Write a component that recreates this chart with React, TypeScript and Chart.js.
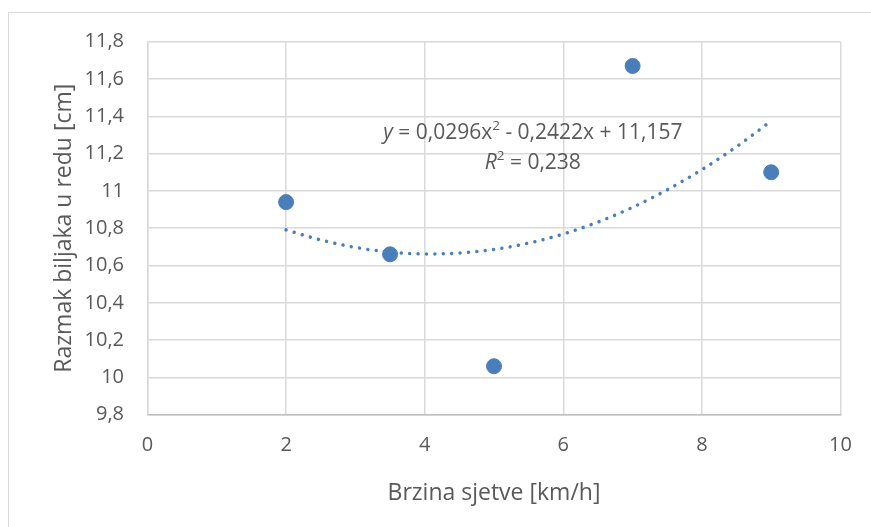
import React, { useEffect, useRef } from "react";
import { Chart, registerables } from "chart.js";

Chart.register(...registerables);

// Measured data: planting speed (km/h) vs plant spacing in row (cm)
const speeds = [2, 3.5, 5, 7, 9];
const spacing = [10.94, 10.66, 10.06, 11.67, 11.1];

// Polynomial trendline (as shown on chart) read at half-step speeds
const trendX = [2, 2.5, 3, 3.5, 4, 4.5, 5, 5.5, 6, 6.5, 7, 7.5, 8, 8.5, 9];
const trendY = [10.791, 10.737, 10.697, 10.672, 10.662, 10.667, 10.686, 10.72, 10.769, 10.833, 10.912, 11.006, 11.114, 11.237, 11.375];

const eqLine1 = { italic: "y", mid: " = 0,0296x", sup: "2", rest: " - 0,2422x + 11,157" };
const eqLine2 = { italic: "R", mid: "", sup: "2", rest: " = 0,238" };
const eqAnchor = { x: 5.56, y: 11.31 };

const xTitle = "Brzina sjetve [km/h]";
const yTitle = "Razmak biljaka u redu [cm]";

const FONT = "'Open Sans', sans-serif";
const TEXT = "#595959";
const BLUE = "#4a7ebb";
const GRID = "#d9d9d9";

const equationPlugin = {
  id: "equation",
  afterDatasetsDraw(chart: any) {
    const { ctx, scales } = chart;
    const cx = scales.x.getPixelForValue(eqAnchor.x);
    const cy = scales.y.getPixelForValue(eqAnchor.y);
    const size = 21;
    const supSize = 13.5;
    const lines = [eqLine1, eqLine2];
    ctx.save();
    ctx.fillStyle = TEXT;
    ctx.textBaseline = "middle";
    ctx.textAlign = "left";
    lines.forEach((ln, i) => {
      const y = cy + i * 30;
      const fI = `italic ${size}px ${FONT}`;
      const fN = `${size}px ${FONT}`;
      const fS = `${supSize}px ${FONT}`;
      ctx.font = fI;
      const wI = ctx.measureText(ln.italic).width;
      ctx.font = fN;
      const wM = ctx.measureText(ln.mid).width;
      const wR = ctx.measureText(ln.rest).width;
      ctx.font = fS;
      const wS = ctx.measureText(ln.sup).width;
      let x = cx - (wI + wM + wS + wR) / 2;
      ctx.font = fI;
      ctx.fillText(ln.italic, x, y);
      x += wI;
      ctx.font = fN;
      ctx.fillText(ln.mid, x, y);
      x += wM;
      ctx.font = fS;
      ctx.fillText(ln.sup, x, y - 7);
      x += wS;
      ctx.font = fN;
      ctx.fillText(ln.rest, x, y);
    });
    ctx.restore();
  },
};

function fmtY(v: number) {
  return String(Number(v.toFixed(1))).replace(".", ",");
}

export default function App() {
  const ref = useRef<HTMLCanvasElement | null>(null);
  useEffect(() => {
    if (!ref.current) return;
    const chart = new Chart(ref.current, {
      type: "scatter",
      data: {
        datasets: [
          {
            label: "Razmak",
            data: speeds.map((x, i) => ({ x, y: spacing[i] })),
            backgroundColor: BLUE,
            borderColor: BLUE,
            pointRadius: 7.5,
            pointHoverRadius: 7.5,
            showLine: false,
          },
          {
            label: "Trend",
            data: trendX.map((x, i) => ({ x, y: trendY[i] })),
            showLine: true,
            borderColor: BLUE,
            borderWidth: 3.5,
            borderDash: [0.01, 8.4],
            borderCapStyle: "round",
            cubicInterpolationMode: "monotone",
            pointRadius: 0,
            fill: false,
          } as any,
        ],
      },
      options: {
        animation: false,
        responsive: false,
        devicePixelRatio: 1,
        layout: { padding: { top: 41.7, right: 30.5, bottom: 0, left: 0 } },
        plugins: { legend: { display: false }, tooltip: { enabled: false } },
        scales: {
          x: {
            type: "linear",
            min: 0,
            max: 10,
            afterFit: (s: any) => {
              s.height = 112.3;
            },
            ticks: {
              stepSize: 2,
              padding: 19,
              color: TEXT,
              font: { family: FONT, size: 20 },
            },
            grid: { color: GRID, lineWidth: 1.5, drawTicks: false },
            border: { color: "#bfbfbf", width: 1.5 },
            title: {
              display: true,
              text: xTitle,
              color: TEXT,
              font: { family: FONT, size: 23 },
              padding: { top: 0, bottom: 20 },
            },
          },
          y: {
            type: "linear",
            min: 9.8,
            max: 11.8,
            afterFit: (s: any) => {
              s.width = 147.5;
            },
            ticks: {
              stepSize: 0.2,
              padding: 23.5,
              color: TEXT,
              font: { family: FONT, size: 20 },
              callback: (v: any) => fmtY(Number(v)),
            },
            grid: { color: GRID, lineWidth: 1.5, drawTicks: false },
            border: { color: GRID, width: 1.5 },
            title: {
              display: true,
              text: yTitle,
              color: TEXT,
              font: { family: FONT, size: 23 },
              padding: { top: 51, bottom: 0 },
            },
          },
        },
      },
      plugins: [equationPlugin],
    });
    return () => chart.destroy();
  }, []);

  return (
    <div
      style={{
        position: "fixed",
        left: 0,
        top: 0,
        width: 871,
        height: 527,
        overflow: "hidden",
        background: "#ffffff",
      }}
    >
      <div
        style={{
          position: "absolute",
          left: 8,
          top: 12,
          width: 900,
          height: 600,
          border: `1.5px solid ${GRID}`,
          boxSizing: "border-box",
        }}
      />
      <canvas
        ref={ref}
        width={871}
        height={527}
        style={{ position: "absolute", left: 0, top: 0, width: 871, height: 527 }}
      />
    </div>
  );
}
